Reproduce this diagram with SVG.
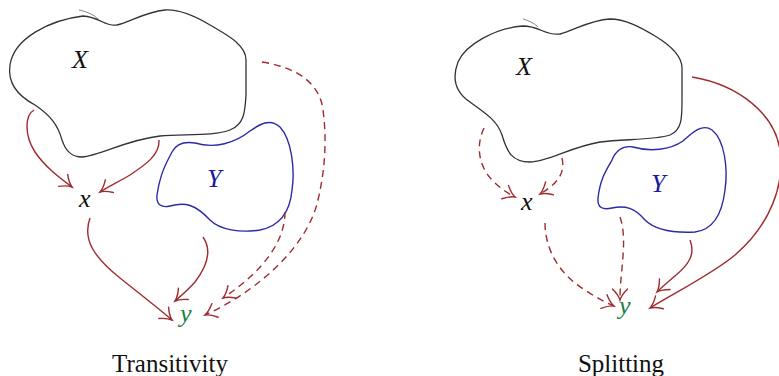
<svg xmlns="http://www.w3.org/2000/svg" width="779" height="376" viewBox="0 0 779 376">
<defs>
<marker id="to" markerUnits="userSpaceOnUse" markerWidth="24" markerHeight="24" viewBox="-12 -12 24 24" refX="0" refY="0" orient="auto" overflow="visible">
<path d="M -11,-7.5 C -6,-2.5 -2,-0.6 0,0 C -2,0.6 -6,2.5 -11,7.5" fill="none" stroke="#9e2b2e" stroke-width="1.4" stroke-linecap="round"/>
</marker>
</defs>
<g id="X1">
<path fill="none" stroke="#333" stroke-width="1.3" d="M 83,16 C 50,20 14,38 10,65 C 7,85 20,97 35,105 C 50,115 58,125 62,140 C 66,152 72,157 82,157 C 100,156 125,140 160,136 C 185,134 215,136 230,130 C 245,124 245,110 246,95 L 246,60 C 246,44 225,34 210,25 C 195,16 180,9 165,10 C 145,12 130,22 117,25 C 105,27 100,17 83,16 Z"/>
<path fill="none" stroke="#666" stroke-width="0.8" d="M 79,10 C 88,12 94,15 98,19"/>
<text x="72" y="68" fill="#111" font-family="Liberation Serif" font-size="26" font-style="italic">X</text>
</g>
<g id="Y1">
<path fill="none" stroke="#2a2aa8" stroke-width="1.4" d="M 195,143 C 182,141 175,146 172,152 C 165,165 160,175 157,195 C 156,205 162,208 170,206 C 185,202 195,204 210,220 C 220,230 240,233 260,230 C 280,226 290,212 292,190 C 295,170 292,140 280,127 C 270,118 260,124 250,131 C 235,143 215,149 195,143 Z"/>
<text x="207" y="187" fill="#1a1a9a" font-family="Liberation Serif" font-size="26" font-style="italic">Y</text>
</g>
<g id="x1"><text x="79" y="207" fill="#111" font-family="Liberation Serif" font-size="26" font-style="italic">x</text></g>
<g id="y1"><text x="180" y="322" fill="#1a8048" font-family="Liberation Serif" font-size="26" font-style="italic">y</text></g>
<g id="edges1" fill="none" stroke="#9e2b2e" stroke-width="1.4" marker-end="url(#to)">
<path d="M 34,110 C 25,115 24,135 35,152 C 45,167 60,178 72,187"/>
<path d="M 159,140 C 160,155 145,165 130,175 C 118,182 108,187 100,192"/>
<path stroke-dasharray="7 5" d="M 262,62 C 300,68 320,85 323,110 C 327,140 325,170 318,200 C 308,245 260,290 205,315"/>
<path stroke-dasharray="7 5" d="M 285,212 C 285,240 265,270 223,298"/>
<path d="M 90,218 C 82,240 95,258 120,278 C 140,294 158,308 172,320"/>
<path d="M 203,237 C 212,250 208,265 195,282 C 188,290 182,295 175,301"/>
</g>
<text x="170" y="372" fill="#111" font-family="Liberation Serif" font-size="25" text-anchor="middle">Transitivity</text>
<g id="X2">
<path fill="none" stroke="#333" stroke-width="1.3" d="M 523,26 C 495,28 465,45 458,62 C 452,78 455,92 470,102 C 485,113 497,120 502,135 C 507,152 512,162 530,162 C 548,162 570,147 600,142 C 625,139 655,140 670,135 C 682,130 682,118 682,100 L 682,68 C 682,55 670,45 655,36 C 640,27 625,19 610,19 C 590,20 575,30 560,34 C 545,36 540,26 523,26 Z"/>
<path fill="none" stroke="#666" stroke-width="0.8" d="M 523,19 C 530,21 535,24 538,27"/>
<text x="516" y="75" fill="#111" font-family="Liberation Serif" font-size="26" font-style="italic">X</text>
</g>
<g id="Y2">
<path fill="none" stroke="#2a2aa8" stroke-width="1.4" d="M 633,147 C 622,145 615,152 612,160 C 605,172 600,180 598,198 C 597,208 603,210 612,208 C 625,205 635,208 645,220 C 655,230 675,233 695,232 C 712,230 722,215 725,190 C 728,170 725,140 712,130 C 702,123 692,133 683,141 C 670,150 650,152 633,147 Z"/>
<text x="651" y="192" fill="#1a1a9a" font-family="Liberation Serif" font-size="26" font-style="italic">Y</text>
</g>
<g id="x2"><text x="521" y="210" fill="#111" font-family="Liberation Serif" font-size="26" font-style="italic">x</text></g>
<g id="y2"><text x="619" y="314" fill="#1a8048" font-family="Liberation Serif" font-size="26" font-style="italic">y</text></g>
<g id="edges2" fill="none" stroke="#9e2b2e" stroke-width="1.4" marker-end="url(#to)">
<path stroke-dasharray="7 5" d="M 484,128 C 476,145 478,165 492,180 C 500,188 507,193 515,197"/>
<path stroke-dasharray="7 5" d="M 562,158 C 566,175 555,185 540,194"/>
<path d="M 692,77 C 740,85 775,115 780,150 C 785,185 770,225 735,255 C 715,272 680,290 650,308"/>
<path stroke-dasharray="7 5" d="M 545,223 C 545,250 560,275 585,290 C 595,297 605,302 614,306"/>
<path stroke-dasharray="7 5" d="M 620,217 C 628,240 620,270 620,300"/>
<path d="M 690,240 C 696,255 688,265 675,276 C 668,282 662,287 657,292"/>
</g>
<text x="621" y="372" fill="#111" font-family="Liberation Serif" font-size="25" text-anchor="middle">Splitting</text>
</svg>
